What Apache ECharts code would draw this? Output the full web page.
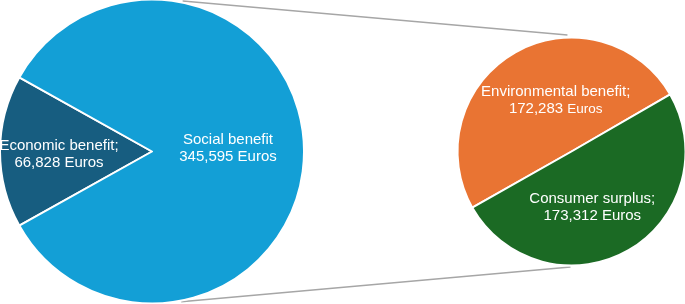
<!DOCTYPE html>
<html><head><meta charset="utf-8">
<script src="https://cdn.jsdelivr.net/npm/echarts@6/dist/echarts.min.js"></script>
<style>html,body{margin:0;padding:0;background:#fff}#c{width:685px;height:304px}</style>
</head><body><div id="c"></div>
<script>
const mainNames = ['Economic benefit', 'Social benefit'];
const mainValues = [66828, 345595];
const subNames = ['Environmental benefit', 'Consumer surplus'];
const subValues = [172283, 173312];

const mainColors = ['#175d80', '#139fd6'];
const subColors = ['#e97433', '#1b6a24'];

const C1 = [152, 151.5], R1 = 152;
const C2 = [571.5, 151.5], R2 = 114;

const fmt = v => v.toLocaleString('en-US');
const mainTotal = mainValues.reduce((a, b) => a + b, 0);
const econHalf = mainValues[0] / mainTotal * 180;

function pt(c, r, deg) {
  const a = deg * Math.PI / 180;
  return [c[0] + r * Math.cos(a), c[1] - r * Math.sin(a)];
}
const t1 = pt(C1, R1 + 1.5, 78.5), t2 = pt(C2, R2 + 2.5, 92);
const b1 = pt(C1, R1 + 1, -79), b2 = pt(C2, R2 + 1.5, -90.5);

const font = '"Liberation Sans", Arial, sans-serif';
const mainOffsets = [[-14, 3], [-3, -3]];
const subOffsets = [[14, 1], [-9, 3.5]];

const chart = echarts.init(document.getElementById('c'), null, {renderer: 'canvas'});
chart.setOption({
  animation: false,
  graphic: [
    {type: 'line', shape: {x1: t1[0], y1: t1[1], x2: t2[0], y2: t2[1]}, style: {stroke: '#a6a6a6', lineWidth: 1.5}, z: -1},
    {type: 'line', shape: {x1: b1[0], y1: b1[1], x2: b2[0], y2: b2[1]}, style: {stroke: '#a6a6a6', lineWidth: 1.5}, z: -1}
  ],
  series: [
    {
      type: 'pie', center: C1, radius: R1, startAngle: 180 + econHalf, clockwise: true,
      avoidLabelOverlap: false,
      itemStyle: {borderColor: '#fff', borderWidth: 2},
      label: {
        position: 'inside', color: '#fff', fontFamily: font, fontSize: 15, lineHeight: 17,
        formatter: p => p.name + ';\n' + fmt(p.value) + ' Euros'
      },
      labelLayout: p => ({dx: mainOffsets[p.dataIndex][0], dy: mainOffsets[p.dataIndex][1]}),
      data: mainNames.map((n, i) => ({name: n, value: mainValues[i], itemStyle: {color: mainColors[i]},
        label: i === 1 ? {formatter: p => p.name + '\n' + fmt(p.value) + ' Euros'} : {}}))
    },
    {
      type: 'pie', center: C2, radius: R2, startAngle: 209.5, clockwise: true,
      avoidLabelOverlap: false,
      itemStyle: {borderColor: '#fff', borderWidth: 2},
      label: {
        position: 'inside', color: '#fff', fontFamily: font, fontSize: 15, lineHeight: 17,
        formatter: p => p.name + ';\n' + fmt(p.value) + (p.dataIndex === 0 ? ' {s|Euros}' : ' Euros'),
        rich: {s: {fontSize: 13.5, color: '#fff', fontFamily: font}}
      },
      labelLayout: p => ({dx: subOffsets[p.dataIndex][0], dy: subOffsets[p.dataIndex][1]}),
      data: subNames.map((n, i) => ({name: n, value: subValues[i], itemStyle: {color: subColors[i]}}))
    }
  ]
});
</script></body></html>
